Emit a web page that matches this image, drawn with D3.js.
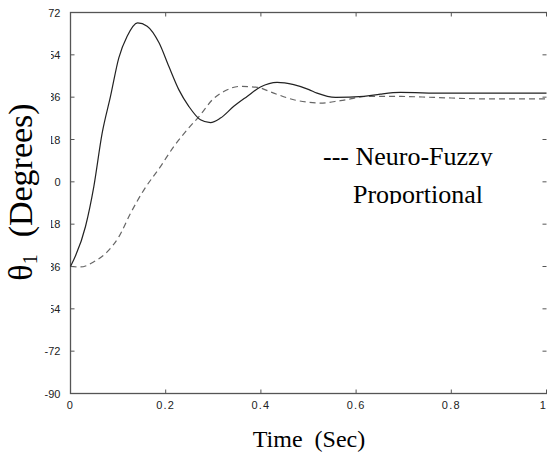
<!DOCTYPE html>
<html>
<head>
<meta charset="utf-8">
<script src="https://cdn.jsdelivr.net/npm/d3@7"></script>
<style>
  body { margin: 0; background: #fff; }
  svg { display: block; }
</style>
</head>
<body>
<script>
// time axis (sec) and angle (deg)
let propT = [0, 0.0315, 0.049, 0.0665, 0.084, 0.1015, 0.119, 0.141, 0.161, 0.186, 0.2065, 0.2275, 0.2485, 0.273, 0.294, 0.315, 0.343, 0.371, 0.399, 0.434, 0.469, 0.501, 0.518, 0.557, 0.616, 0.651, 0.693, 0.784, 1.0];
let propV = [-36, -19, -2, 20.7, 36.3, 52.7, 61.9, 67.6, 66.2, 59.1, 49.1, 39.2, 32.1, 26.4, 25.2, 27.1, 32.1, 36.3, 40.3, 42.3, 41.3, 39.2, 37.7, 35.9, 36.3, 37.3, 38.0, 37.7, 37.7];

let nfT = [0, 0.021, 0.049, 0.077, 0.1015, 0.126, 0.154, 0.189, 0.217, 0.245, 0.273, 0.298, 0.322, 0.357, 0.392, 0.427, 0.469, 0.501, 0.525, 0.567, 0.623, 0.693, 0.763, 0.868, 1.0];
let nfV = [-36, -36.2, -34, -29.8, -23.4, -13.4, -3.5, 6.5, 15, 22.1, 28.5, 34.9, 38.4, 40.6, 40.2, 37.7, 34.9, 33.8, 33.5, 34.5, 36.3, 36.3, 35.9, 35.3, 35.3];

let xTicks = [0, 0.2, 0.4, 0.6, 0.8, 1];
let yTicks = [72, 54, 36, 18, 0, -18, -36, -54, -72, -90];

let svg = d3.select("body").append("svg")
	.attr("width", 547)
	.attr("height", 454);

let plotLeft = 70.5, plotRight = 546.5, plotTop = 12.5, plotBottom = 393.5;

let x = d3.scaleLinear().domain([0, 1]).range([plotLeft, plotRight]);
let y = d3.scaleLinear().domain([-90, 72]).range([plotBottom, plotTop]);

let frameColor = "#555";
let serif = "'Liberation Serif', 'Times New Roman', serif";
let sans = "'Liberation Sans', Arial, sans-serif";

// frame (right side falls just off the picture)
svg.append("rect")
	.attr("x", plotLeft).attr("y", plotTop)
	.attr("width", plotRight + 2 - plotLeft).attr("height", plotBottom - plotTop)
	.attr("fill", "none")
	.attr("stroke", frameColor)
	.attr("stroke-width", 1.3);

// inward ticks on all sides
let tickLen = 4;
xTicks.forEach(t => {
	svg.append("line").attr("x1", x(t)).attr("x2", x(t)).attr("y1", plotBottom).attr("y2", plotBottom - tickLen).attr("stroke", frameColor);
	svg.append("line").attr("x1", x(t)).attr("x2", x(t)).attr("y1", plotTop).attr("y2", plotTop + tickLen).attr("stroke", frameColor);
});
yTicks.forEach(v => {
	svg.append("line").attr("x1", plotLeft).attr("x2", plotLeft + tickLen).attr("y1", y(v)).attr("y2", y(v)).attr("stroke", frameColor);
	svg.append("line").attr("x1", plotRight).attr("x2", plotRight - tickLen).attr("y1", y(v)).attr("y2", y(v)).attr("stroke", frameColor);
});

// tick labels
svg.append("g").selectAll("text")
	.data(xTicks).enter().append("text")
	.attr("x", d => d === 1 ? 547 : x(d))
	.attr("y", plotBottom + 15)
	.attr("text-anchor", d => d === 1 ? "end" : "middle")
	.attr("font-family", sans)
	.attr("font-size", 11)
	.attr("letter-spacing", 1.2)
	.attr("fill", "#222")
	.text(d => d === 0 || d === 1 ? d : d.toFixed(1));

svg.append("g").selectAll("text")
	.data(yTicks).enter().append("text")
	.attr("x", plotLeft - 10)
	.attr("y", d => y(d) + 4)
	.attr("text-anchor", "end")
	.attr("font-family", sans)
	.attr("font-size", 11)
	.attr("fill", "#222")
	.text(d => d);

// lines
let line = d3.line().curve(d3.curveMonotoneX);
let propPts = propT.map((t, i) => [x(t), y(propV[i])]);
let nfPts = nfT.map((t, i) => [x(t), y(nfV[i])]);

svg.append("path")
	.attr("d", line(nfPts))
	.attr("fill", "none")
	.attr("stroke", "#666")
	.attr("stroke-width", 1.2)
	.attr("stroke-dasharray", "6,4");

svg.append("path")
	.attr("d", line(propPts))
	.attr("fill", "none")
	.attr("stroke", "#222")
	.attr("stroke-width", 1.2);

// y label sits on a white patch that hides part of the tick labels
svg.append("rect")
	.attr("x", 0).attr("y", 45)
	.attr("width", 51).attr("height", 280)
	.attr("fill", "#fff");

let yl = svg.append("text")
	.attr("transform", "translate(32, 192) rotate(-90)")
	.attr("text-anchor", "middle")
	.attr("font-family", serif)
	.attr("font-size", 34)
	.attr("fill", "#000");
yl.append("tspan").text("θ");
yl.append("tspan").attr("font-size", 20).attr("dy", 5).text("1");
yl.append("tspan").attr("dy", -5).attr("xml:space", "preserve").text("  (Degrees)");

svg.append("text")
	.attr("x", 309)
	.attr("y", 447)
	.attr("text-anchor", "middle")
	.attr("font-family", serif)
	.attr("font-size", 24)
	.attr("fill", "#000")
	.attr("xml:space", "preserve")
	.text("Time  (Sec)");

// legend, clipped at the bottom like the pasted labels
let defs = svg.append("defs");
defs.append("clipPath").attr("id", "clipA")
	.append("rect").attr("x", 300).attr("y", 130).attr("width", 220).attr("height", 36);
defs.append("clipPath").attr("id", "clipB")
	.append("rect").attr("x", 300).attr("y", 170).attr("width", 220).attr("height", 34);

svg.append("text")
	.attr("clip-path", "url(#clipA)")
	.attr("x", 323)
	.attr("y", 165)
	.attr("font-family", serif)
	.attr("font-size", 26)
	.attr("fill", "#000")
	.text("--- Neuro-Fuzzy");

svg.append("text")
	.attr("clip-path", "url(#clipB)")
	.attr("x", 353)
	.attr("y", 203)
	.attr("font-family", serif)
	.attr("font-size", 26)
	.attr("fill", "#000")
	.text("Proportional");
</script>
</body>
</html>
